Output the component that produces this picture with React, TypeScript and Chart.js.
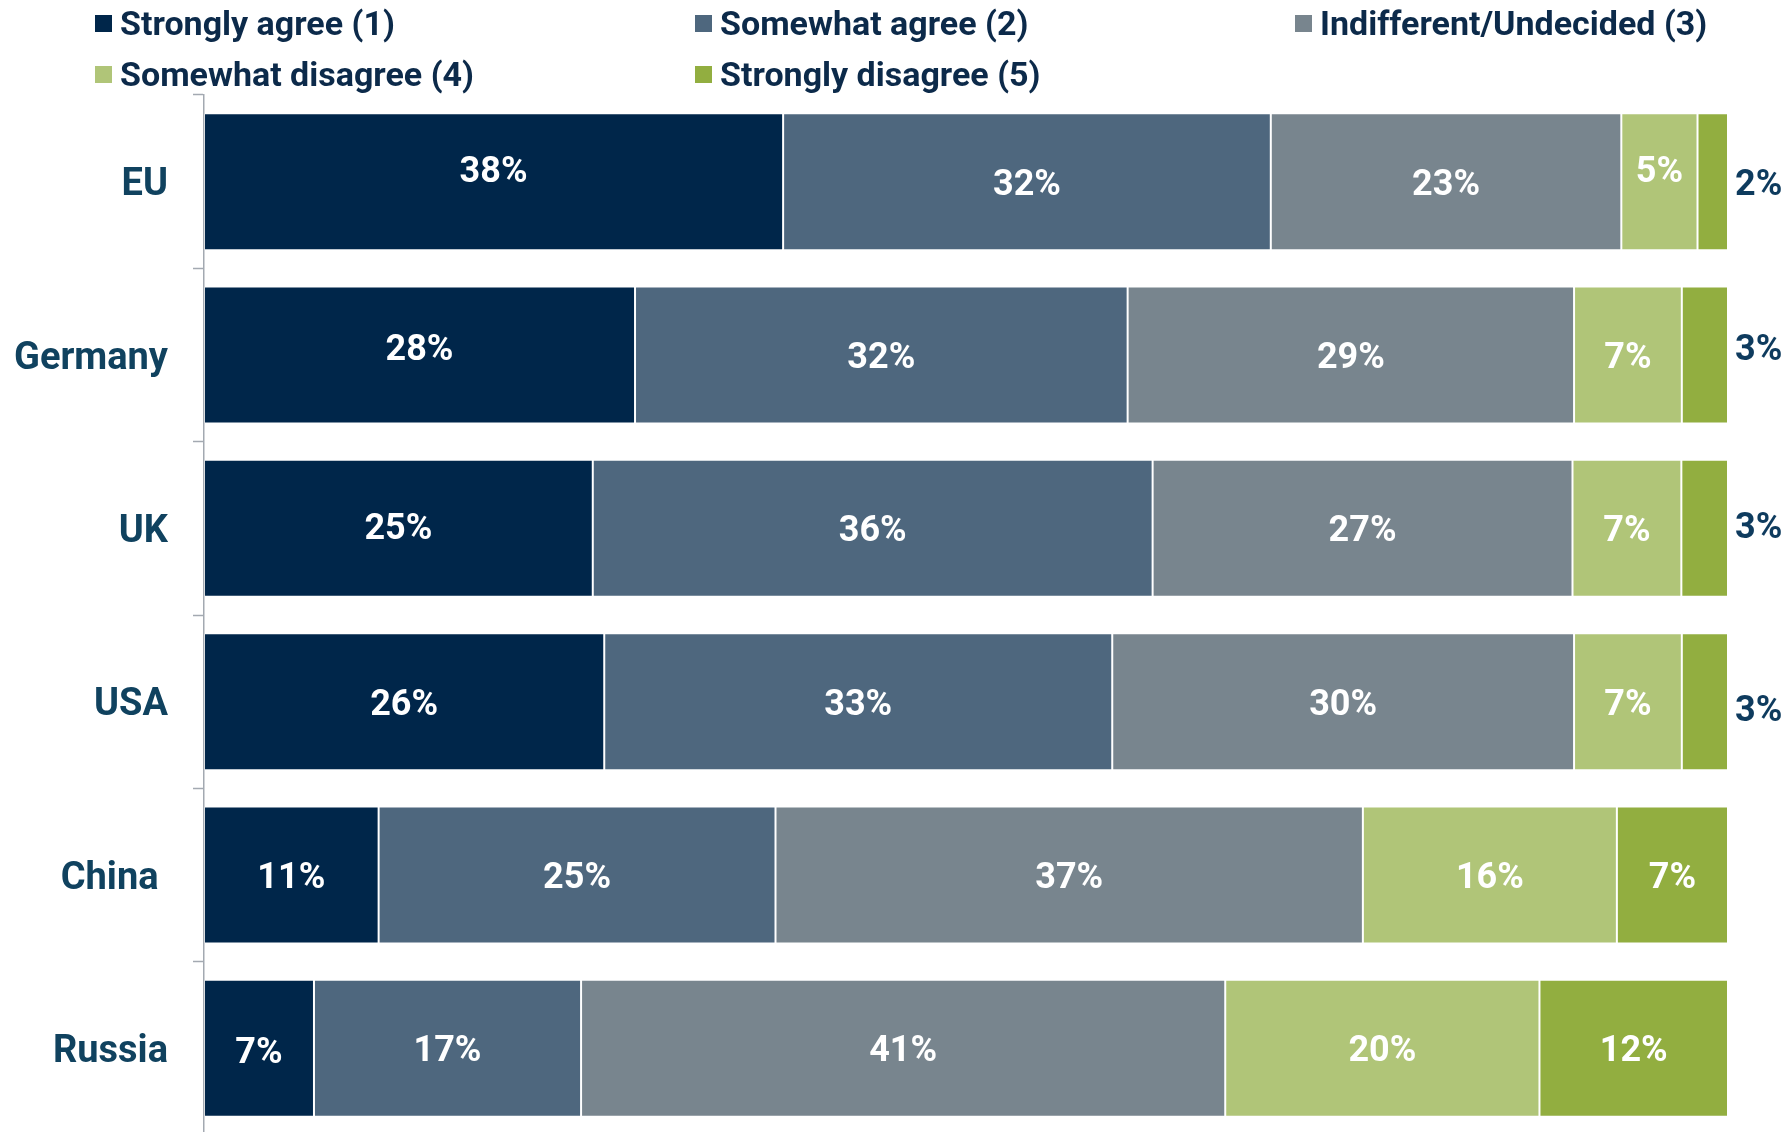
import React, { useEffect, useRef } from "react";
import { Chart, registerables } from "chart.js";

Chart.register(...registerables);

// ---------- data ----------
const CATEGORIES = ["EU", "Germany", "UK", "USA", "China ", "Russia"];
const SERIES_NAMES = [
  "Strongly agree (1)",
  "Somewhat agree (2)",
  "Indifferent/Undecided (3)",
  "Somewhat disagree (4)",
  "Strongly disagree (5)",
];
const STRONGLY_AGREE = [38, 28, 25, 26, 11, 7];
const SOMEWHAT_AGREE = [32, 32, 36, 33, 25, 17];
const INDIFFERENT = [23, 29, 27, 30, 37, 41];
const SOMEWHAT_DISAGREE = [5, 7, 7, 7, 16, 20];
const STRONGLY_DISAGREE = [2, 3, 3, 3, 7, 12];

// ---------- style ----------
const COLORS = ["#00264a", "#4e677e", "#78858e", "#b0c578", "#92ae40"];
const LEGEND_TEXT = "#0c2a4a";
const AXIS_TEXT = "#10425f";
const OUTSIDE_TEXT = "#0e3b5e";
const FONT = "Roboto";
const LABEL_BASE_DY = 4;
// manual vertical nudges of individual data labels [category][series]
const LABEL_NUDGE_Y = [
  [-13, 0, 0, -13, 0],
  [-8, 0, 0, 0, -8],
  [-2, 0, 0, 0, -3],
  [0, 0, 0, 0, 6],
  [0, 0, 0, 0, 0],
  [2, 0, 0, 0, 0],
];

const RAW = [STRONGLY_AGREE, SOMEWHAT_AGREE, INDIFFERENT, SOMEWHAT_DISAGREE, STRONGLY_DISAGREE];

const labelPlugin = {
  id: "segLabels",
  afterDatasetsDraw(chart: any) {
    const ctx = chart.ctx;
    ctx.save();
    ctx.font = `bold 36px ${FONT}`;
    ctx.textBaseline = "middle";
    chart.data.datasets.forEach((ds: any, si: number) => {
      const meta = chart.getDatasetMeta(si);
      meta.data.forEach((bar: any, ci: number) => {
        const raw = RAW[si][ci];
        const text = `${raw}%`;
        const dy = LABEL_NUDGE_Y[ci][si] + LABEL_BASE_DY;
        const isLast = si === RAW.length - 1;
        if (isLast && raw < 5) {
          ctx.fillStyle = OUTSIDE_TEXT;
          ctx.textAlign = "left";
          ctx.fillText(text, Math.max(bar.x, bar.base) + 7, bar.y + dy);
        } else {
          ctx.fillStyle = "#ffffff";
          ctx.textAlign = "center";
          ctx.fillText(text, (bar.x + bar.base) / 2, bar.y + dy);
        }
      });
    });
    ctx.restore();
  },
};

export default function App() {
  const ref = useRef<HTMLCanvasElement | null>(null);

  useEffect(() => {
    if (!ref.current) return;
    const totals = CATEGORIES.map((_, i) => RAW.reduce((s, arr) => s + arr[i], 0));
    const chart = new Chart(ref.current, {
      type: "bar",
      data: {
        labels: CATEGORIES,
        datasets: RAW.map((arr, si) => ({
          label: SERIES_NAMES[si],
          data: arr.map((v, i) => (v / totals[i]) * 100),
          backgroundColor: COLORS[si],
          borderColor: "rgba(255,255,255,0.2)",
          borderWidth: 1,
          borderSkipped: false,
          categoryPercentage: 1,
          barPercentage: 0.79,
        })),
      },
      options: {
        indexAxis: "y",
        responsive: false,
        animation: false,
        layout: { padding: { left: 0, right: 61, top: 95, bottom: 1 } },
        plugins: {
          legend: { display: false },
          tooltip: { enabled: false },
        },
        scales: {
          x: {
            stacked: true,
            min: 0,
            max: 100,
            display: false,
          },
          y: {
            stacked: true,
            offset: true,
            grid: {
              offset: true,
              drawOnChartArea: false,
              drawTicks: true,
              tickLength: 11,
              tickColor: "#a3a9b1",
              tickWidth: 1.5,
            },
            border: { display: true, color: "#a3a9b1", width: 1.5 },
            ticks: {
              color: AXIS_TEXT,
              padding: 25,
              labelOffset: 4,
              font: { family: FONT, size: 38, weight: "bold" },
            },
            afterFit(scale: any) {
              scale.width = 204;
              scale.paddingTop = 0;
              scale.paddingBottom = 0;
            },
          },
        },
      },
      plugins: [labelPlugin],
    } as any);
    return () => chart.destroy();
  }, []);

  const legendRows = [
    [0, 1, 2],
    [3, 4],
  ];
  const colX = [95, 695, 1295];
  const rowCenter = [23, 74];

  return (
    <div
      style={{
        position: "absolute",
        left: 0,
        top: 0,
        width: 1789,
        height: 1132,
        overflow: "hidden",
        background: "#ffffff",
      }}
    >
      <canvas ref={ref} width={1789} height={1136} style={{ display: "block" }} />
      {legendRows.map((row, ri) =>
        row.map((si, k) => (
          <div
            key={`${ri}-${k}`}
            style={{
              position: "absolute",
              left: colX[k],
              top: rowCenter[ri] - 20,
              height: 40,
              display: "flex",
              alignItems: "center",
              whiteSpace: "nowrap",
              fontFamily: FONT,
              fontWeight: "bold",
              fontSize: 34,
              color: LEGEND_TEXT,
            }}
          >
            <span
              style={{
                display: "inline-block",
                width: 17,
                height: 17,
                background: COLORS[si],
                marginRight: 8,
              }}
            />
            <span>{SERIES_NAMES[si]}</span>
          </div>
        ))
      )}
    </div>
  );
}
